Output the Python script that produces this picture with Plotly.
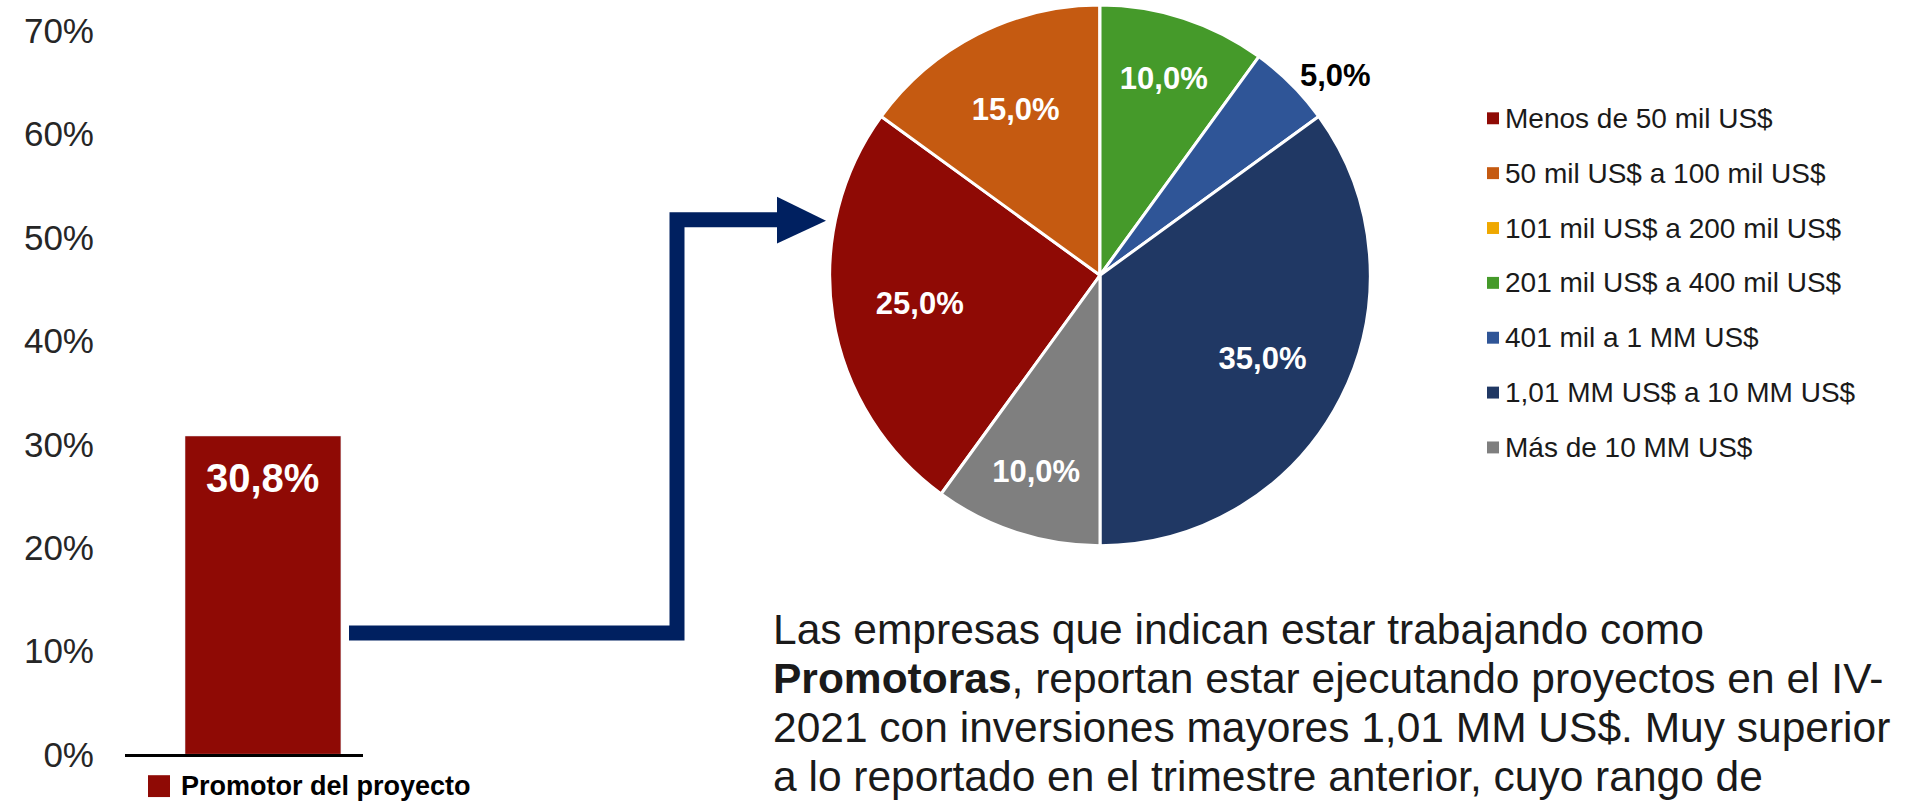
import plotly.graph_objects as go

# datos
bar_labels = ['Promotor del proyecto']
bar_values = [30.8]

pie_labels = [
    'Menos de 50 mil US$',
    '50 mil US$ a 100 mil US$',
    '101 mil US$ a 200 mil US$',
    '201 mil US$ a 400 mil US$',
    '401 mil a 1 MM US$',
    '1,01 MM US$ a 10 MM US$',
    'Más de 10 MM US$',
]
pie_values = [25.0, 15.0, 0.0, 10.0, 5.0, 35.0, 10.0]
pie_colors = ['#8F0A05', '#C55A11', '#EFA800', '#459A2A', '#2F5597', '#203864', '#7F7F7F']

body_lines = [
    'Las empresas que indican estar trabajando como',
    '<b>Promotoras</b>, reportan estar ejecutando proyectos en el IV-',
    '2021 con inversiones mayores 1,01 MM US$. Muy superior',
    'a lo reportado en el trimestre anterior, cuyo rango de',
]

W, H = 1909, 806
FONT = 'Liberation Sans, Arial, sans-serif'


def px(x):
    return x / W


def py(y):
    return 1 - y / H


fig = go.Figure()

fig.add_trace(go.Bar(
    x=bar_labels,
    y=bar_values,
    width=0.6,
    marker_color=pie_colors[0],
    showlegend=False,
    hoverinfo='skip',
))

pie_domain = dict(x=[px(828), px(1372)], y=[py(544), 1])

# pastel con colores
fig.add_trace(go.Pie(
    labels=pie_labels,
    values=pie_values,
    sort=False,
    direction='clockwise',
    rotation=216,
    marker=dict(colors=pie_colors, line=dict(color='white', width=3)),
    textinfo='none',
    domain=pie_domain,
    showlegend=False,
    hoverinfo='label+percent',
))

# capa transparente (con hueco) solo para ubicar las etiquetas mas afuera
pie_text = ['%{value:.1f}%' if v > 0 else '' for v in pie_values]
pie_pos = ['outside' if v < 6 else 'inside' for v in pie_values]
fig.add_trace(go.Pie(
    labels=pie_labels,
    values=pie_values,
    sort=False,
    direction='clockwise',
    rotation=216,
    hole=0.35,
    marker=dict(colors=['rgba(0,0,0,0)'] * len(pie_values), line=dict(width=0)),
    texttemplate=pie_text,
    textposition=pie_pos,
    insidetextorientation='horizontal',
    insidetextfont=dict(family=FONT, size=31, color='white', weight='bold'),
    outsidetextfont=dict(family=FONT, size=31, color='black', weight='bold'),
    domain=pie_domain,
    showlegend=False,
    hoverinfo='skip',
))

# etiqueta de la barra
for lab, v in zip(bar_labels, bar_values):
    fig.add_annotation(x=lab, y=v, xref='x', yref='y', yanchor='middle', yshift=-42,
                       text=f'<b>{v:.1f}%</b>'.replace('.', ','), showarrow=False,
                       font=dict(family=FONT, size=40, color='white'))

# leyenda de la barra
fig.add_shape(type='rect', xref='paper', yref='paper',
              x0=px(148), x1=px(170), y0=py(797), y1=py(775),
              fillcolor=pie_colors[0], line_width=0)
fig.add_annotation(x=px(179), y=py(786), xref='paper', yref='paper', xanchor='left', yanchor='middle',
                   text=f'<b>{bar_labels[0]}</b>', showarrow=False,
                   font=dict(family=FONT, size=27, color='black'))

# leyenda del pastel
for i, (lab, col) in enumerate(zip(pie_labels, pie_colors)):
    yc = 114 + i * 55.2
    fig.add_shape(type='rect', xref='paper', yref='paper',
                  x0=px(1487), x1=px(1499), y0=py(yc + 6), y1=py(yc - 6),
                  fillcolor=col, line_width=0)
    fig.add_annotation(x=px(1503), y=py(yc), xref='paper', yref='paper', xanchor='left', yanchor='middle',
                       text=lab, showarrow=False,
                       font=dict(family=FONT, size=28, color='#1a1a1a'))

# flecha
fig.add_shape(type='path', xref='paper', yref='paper',
              path=f'M {px(349)},{py(632)} L {px(677)},{py(632)} L {px(677)},{py(216)} L {px(780)},{py(216)}',
              line=dict(color='#002060', width=15))
fig.add_shape(type='path', xref='paper', yref='paper',
              path=f'M {px(777)},{py(193)} L {px(826)},{py(217)} L {px(777)},{py(240)} Z',
              fillcolor='#002060', line_width=0)

# texto, una linea por anotacion
for i, line in enumerate(body_lines):
    fig.add_annotation(x=px(771), y=py(628 + i * 49.5), xref='paper', yref='paper',
                       xanchor='left', yanchor='middle', align='left',
                       text=line, showarrow=False,
                       font=dict(family=FONT, size=42.5, color='#1a1a1a'))

fig.update_layout(
    width=W,
    height=H,
    margin=dict(l=0, r=0, t=0, b=0),
    paper_bgcolor='white',
    plot_bgcolor='rgba(0,0,0,0)',
    separators=', ',
    font=dict(family=FONT),
    xaxis=dict(
        domain=[px(125), px(363)],
        range=[-0.531, 0.385],
        showticklabels=False,
        showgrid=False,
        zeroline=False,
        showline=True,
        linecolor='black',
        linewidth=3,
        automargin=False,
        fixedrange=True,
    ),
    yaxis=dict(
        domain=[py(754), py(26)],
        range=[0, 70],
        dtick=10,
        ticksuffix='%',
        tickfont=dict(size=35, color='#262626'),
        ticklabelstandoff=30,
        showgrid=False,
        zeroline=False,
        showline=False,
        automargin=False,
        fixedrange=True,
    ),
)

fig.write_html('out.html', config={'displayModeBar': False},
               post_script="document.body.style.margin='0';")
